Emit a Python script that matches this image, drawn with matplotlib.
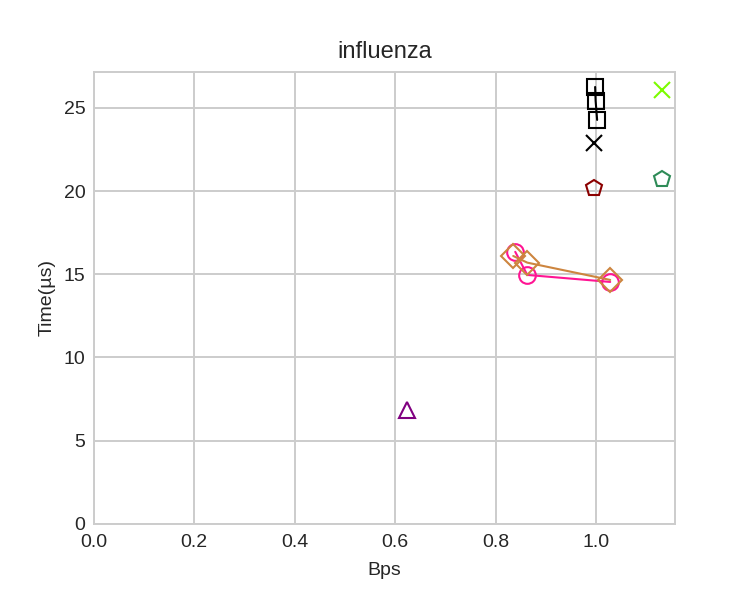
import matplotlib
matplotlib.use("Agg")
import matplotlib.pyplot as plt

plt.style.use("seaborn-v0_8-whitegrid")
plt.rcParams['font.family'] = ['Liberation Sans', 'DejaVu Sans']

# series
sq_x = [0.998, 0.999, 1.002]
sq_y = [26.26, 25.42, 24.28]
circ_x = [0.839, 0.863, 1.028]
circ_y = [16.35, 14.96, 14.54]
dia_x = [0.835, 0.863, 1.028]
dia_y = [16.1, 15.7, 14.66]
bx_x, bx_y = [0.996], [22.9]
red_pent_x, red_pent_y = [0.996], [20.2]
green_pent_x, green_pent_y = [1.131], [20.73]
lime_x_x, lime_x_y = [1.131], [26.08]
tri_x, tri_y = [0.624], [6.85]

fig = plt.figure(figsize=(7.5, 6), dpi=100)
ax = fig.add_axes([0.125, 0.127, 0.775, 0.753])

ms = 12
ax.plot(sq_x, sq_y, color="black", marker="s", mfc="none", ms=ms, lw=1.5, mew=1.5)
ax.plot(circ_x, circ_y, color="#ff1493", marker="o", mfc="none", ms=ms, lw=1.5, mew=1.5)
ax.plot(dia_x, dia_y, color="#cd853f", marker="D", mfc="none", ms=ms, lw=1.5, mew=1.5)
ax.plot(bx_x, bx_y, color="black", marker="x", ms=ms, lw=0, mew=1.5)
ax.plot(red_pent_x, red_pent_y, color="#8b0000", marker="p", mfc="none", ms=ms, lw=0, mew=1.5)
ax.plot(green_pent_x, green_pent_y, color="#2e8b57", marker="p", mfc="none", ms=ms, lw=0, mew=1.5)
ax.plot(lime_x_x, lime_x_y, color="#7cfc00", marker="x", ms=ms, lw=0, mew=1.5)
ax.plot(tri_x, tri_y, color="purple", marker="^", mfc="none", ms=ms, lw=0, mew=1.5)

ax.set_xlim(0, 1.157)
ax.set_ylim(0, 27.16)
ax.grid(True, color="#cccccc", linewidth=1.4)
ax.set_title("influenza", fontsize=17, pad=10)
ax.set_xlabel("Bps", fontsize=14, labelpad=8)
ax.set_ylabel("Time(µs)", fontsize=14, labelpad=6)
ax.tick_params(axis="x", labelsize=14, pad=7)
ax.tick_params(axis="y", labelsize=14, pad=6)
for s in ax.spines.values():
    s.set_visible(True)
    s.set_color("#cccccc")
    s.set_linewidth(1.4)

fig.savefig("out.png", dpi=100)
